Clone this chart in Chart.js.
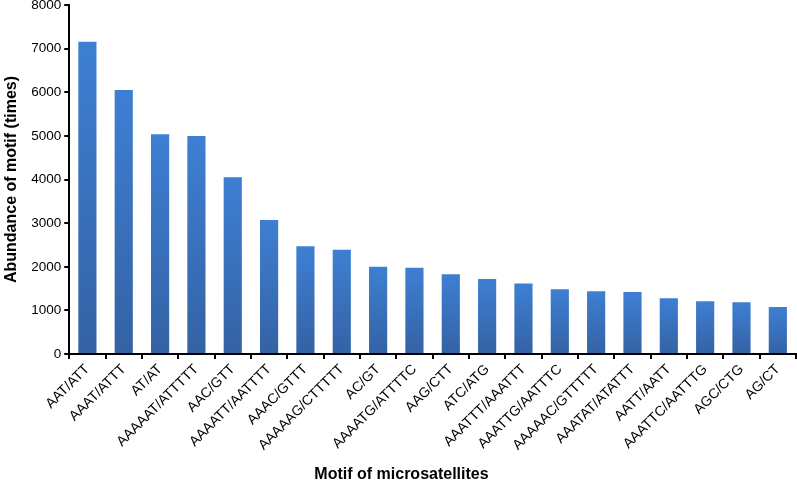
<!DOCTYPE html>
<html>
<head>
<meta charset="utf-8">
<script src="https://cdn.jsdelivr.net/npm/chart.js@4/dist/chart.umd.min.js"></script>
<style>
  html, body { margin: 0; padding: 0; background: #fff; }
  #wrap { width: 797px; height: 496px; }
</style>
</head>
<body>
<div id="wrap"><canvas id="motifChart" width="797" height="496"></canvas></div>
<script>
// --- data ---
const motifs = [
    'AAT/ATT', 'AAAT/ATTT', 'AT/AT', 'AAAAAT/ATTTTT', 'AAC/GTT',
    'AAAATT/AATTTT', 'AAAC/GTTT', 'AAAAAG/CTTTTT', 'AC/GT', 'AAAATG/ATTTTC',
    'AAG/CTT', 'ATC/ATG', 'AAATTT/AAATTT', 'AAATTG/AATTTC', 'AAAAAC/GTTTTT',
    'AAATAT/ATATTT', 'AATT/AATT', 'AAATTC/AATTTG', 'AGC/CTG', 'AG/CT'
];
const abundance = [
    7160, 6050, 5040, 5000, 4050,
    3070, 2470, 2390, 2000, 1980,
    1830, 1720, 1615, 1485, 1440,
    1425, 1280, 1210, 1190, 1080
];
const yTicks = [0, 1000, 2000, 3000, 4000, 5000, 6000, 7000, 8000];

const fontFamily = '"Liberation Sans", Arial, sans-serif';

// each bar gets its own vertical gradient: lighter top, darker base
function barGradient(context) {
    const chart = context.chart;
    const yScale = chart.scales.y;
    if (!chart.chartArea || !yScale || context.parsed == null) return '#3a72c0';
    const top = yScale.getPixelForValue(context.parsed.y);
    const base = yScale.getPixelForValue(0);
    const g = chart.ctx.createLinearGradient(0, top, 0, base);
    g.addColorStop(0, '#3e7fd3');
    g.addColorStop(1, '#3462a4');
    return g;
}

new Chart(document.getElementById('motifChart').getContext('2d'), {
    type: 'bar',
    data: {
        labels: motifs,
        datasets: [{
            data: abundance,
            backgroundColor: barGradient,
            borderWidth: 0,
            barPercentage: 0.5,
            categoryPercentage: 1.0
        }]
    },
    options: {
        responsive: false,
        animation: false,
        layout: { padding: { top: 5, right: 1, left: 2, bottom: 12 } },
        plugins: {
            legend: { display: false },
            tooltip: { enabled: false }
        },
        scales: {
            y: {
                min: 0,
                max: 8000,
                afterBuildTicks: (axis) => { axis.ticks = yTicks.map(v => ({ value: v })); },
                // let the top "8000" label sit at the very edge like the original
                afterFit: (axis) => { axis.paddingTop = 0; },
                grid: {
                    display: true,
                    drawOnChartArea: false,
                    drawTicks: true,
                    tickLength: 5,
                    color: '#000',
                    lineWidth: 2
                },
                border: { display: true, color: '#000', width: 2 },
                ticks: {
                    color: '#000',
                    padding: 3,
                    callback: (v) => String(v),
                    font: { family: fontFamily, size: 13.5 }
                },
                title: {
                    display: true,
                    text: 'Abundance of motif (times)',
                    color: '#000',
                    padding: { top: 0, bottom: 7 },
                    font: { family: fontFamily, size: 16, weight: 'bold' }
                }
            },
            x: {
                grid: {
                    display: true,
                    offset: true,
                    drawOnChartArea: false,
                    drawTicks: true,
                    tickLength: 5,
                    color: '#000',
                    lineWidth: 2
                },
                border: { display: true, color: '#000', width: 2 },
                ticks: {
                    color: '#000',
                    minRotation: 45,
                    maxRotation: 45,
                    autoSkip: false,
                    padding: 2,
                    font: { family: fontFamily, size: 14 }
                },
                title: {
                    display: true,
                    // trailing spaces nudge the centred title left, as in the original
                    text: 'Motif of microsatellites              ',
                    color: '#000',
                    padding: { top: 9, bottom: 0 },
                    font: { family: fontFamily, size: 16, weight: 'bold' }
                }
            }
        }
    }
});
</script>
</body>
</html>
